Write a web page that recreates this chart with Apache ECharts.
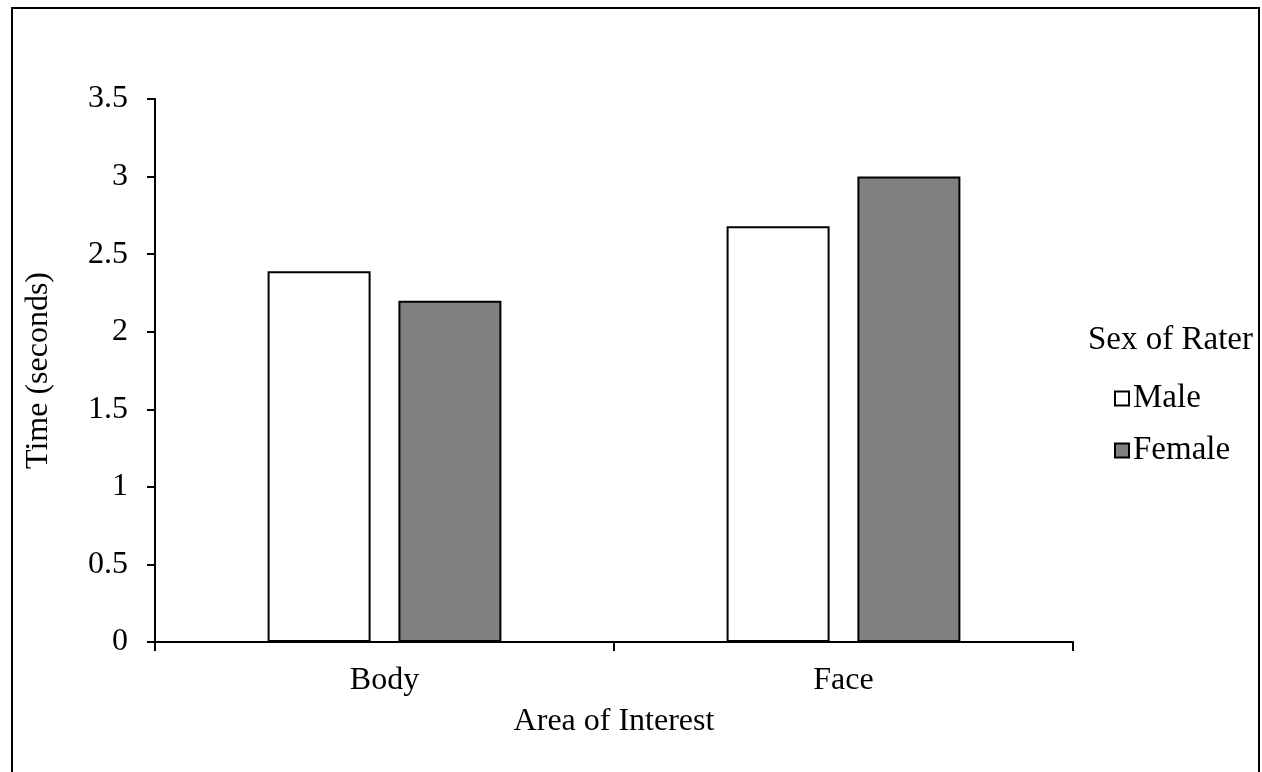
<!DOCTYPE html>
<html>
<head>
<meta charset="utf-8">
<script src="https://cdn.jsdelivr.net/npm/echarts@6/dist/echarts.min.js"></script>
<style>
html,body{margin:0;padding:0;background:#fff;}
#chart{width:1262px;height:772px;}
</style>
</head>
<body>
<div id="chart"></div>
<script>
const categories = ['Body', 'Face'];
const maleValues = [2.39, 2.68];
const femaleValues = [2.2, 3.0];
const seriesNames = ['Male', 'Female'];
const legendTitle = 'Sex of Rater';
const xAxisTitle = 'Area of Interest';
const yAxisTitle = 'Time (seconds)';

const FONT = '"Liberation Serif", "Times New Roman", serif';
const chart = echarts.init(document.getElementById('chart'));
chart.setOption({
  animation: false,
  backgroundColor: '#fff',
  textStyle: { fontFamily: FONT, color: '#000' },
  grid: { left: 155, top: 99, right: 189, bottom: 130, containLabel: false },
  graphic: [
    { type: 'rect', shape: { x: 12, y: 8, width: 1247, height: 800 },
      style: { fill: 'none', stroke: '#000', lineWidth: 2 }, silent: true },
    { type: 'text', left: 1088, top: 324,
      style: { text: legendTitle, font: '33px ' + FONT, fill: '#000' } }
  ],
  legend: {
    orient: 'vertical', left: 1109, top: 377, itemGap: 19,
    itemWidth: 14, itemHeight: 14, icon: 'rect',
    textStyle: { fontFamily: FONT, fontSize: 33, color: '#000', padding: [0,0,0,-1] },
    data: seriesNames
  },
  xAxis: {
    type: 'category', data: categories,
    name: xAxisTitle, nameLocation: 'middle', nameGap: 64,
    nameTextStyle: { fontFamily: FONT, fontSize: 32, color: '#000' },
    axisLine: { lineStyle: { color: '#000', width: 2 } },
    axisTick: { show: true, length: 9, lineStyle: { color: '#000', width: 2 } },
    axisLabel: { fontFamily: FONT, fontSize: 32, color: '#000', margin: 23 },
    splitLine: { show: false }
  },
  yAxis: {
    type: 'value', min: 0, max: 3.5, interval: 0.5,
    name: yAxisTitle, nameLocation: 'middle', nameGap: 100, nameRotate: 90,
    nameTextStyle: { fontFamily: FONT, fontSize: 32, color: '#000' },
    axisLine: { show: true, lineStyle: { color: '#000', width: 2 } },
    axisTick: { show: true, length: 8, lineStyle: { color: '#000', width: 2 } },
    axisLabel: { fontFamily: FONT, fontSize: 32, color: '#000', margin: 27, padding: [6, 0, 0, 0] },
    splitLine: { show: false }
  },
  series: [
    { name: seriesNames[0], type: 'bar', data: maleValues, barWidth: 103, barGap: '27%',
      itemStyle: { color: '#ffffff', borderColor: '#000', borderWidth: 2 } },
    { name: seriesNames[1], type: 'bar', data: femaleValues, barWidth: 103,
      itemStyle: { color: '#808080', borderColor: '#000', borderWidth: 2 } }
  ]
});
</script>
</body>
</html>
